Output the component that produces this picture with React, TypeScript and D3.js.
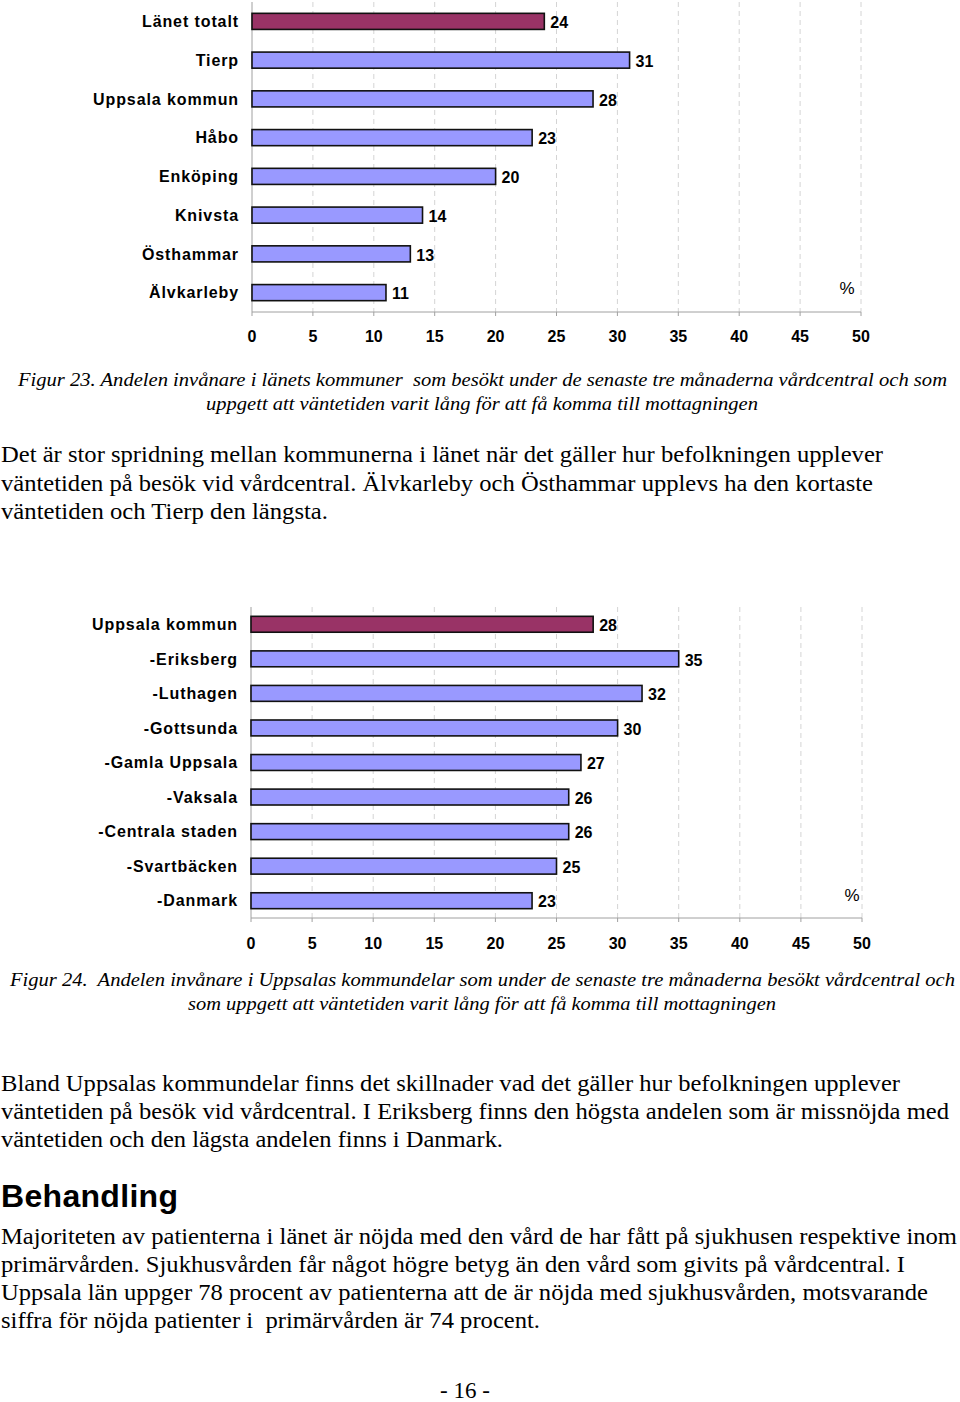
import React from "react";
import * as d3 from "d3";

const chart1Categories = ["Länet totalt", "Tierp", "Uppsala kommun", "Håbo", "Enköping", "Knivsta", "Östhammar", "Älvkarleby"];
const chart1Values = [24, 31, 28, 23, 20, 14, 13, 11];

const chart2Categories = ["Uppsala kommun", "-Eriksberg", "-Luthagen", "-Gottsunda", "-Gamla Uppsala", "-Vaksala", "-Centrala staden", "-Svartbäcken", "-Danmark"];
const chart2Values = [28, 35, 32, 30, 27, 26, 26, 25, 23];

const xTicks = [0, 5, 10, 15, 20, 25, 30, 35, 40, 45, 50];

const caption23 = [
  "Figur 23. Andelen invånare i länets kommuner  som besökt under de senaste tre månaderna vårdcentral och som",
  "uppgett att väntetiden varit lång för att få komma till mottagningen",
];
const para1 = [
  "Det är stor spridning mellan kommunerna i länet när det gäller hur befolkningen upplever",
  "väntetiden på besök vid vårdcentral. Älvkarleby och Östhammar upplevs ha den kortaste",
  "väntetiden och Tierp den längsta.",
];
const caption24 = [
  "Figur 24.  Andelen invånare i Uppsalas kommundelar som under de senaste tre månaderna besökt vårdcentral och",
  "som uppgett att väntetiden varit lång för att få komma till mottagningen",
];
const para2 = [
  "Bland Uppsalas kommundelar finns det skillnader vad det gäller hur befolkningen upplever",
  "väntetiden på besök vid vårdcentral. I Eriksberg finns den högsta andelen som är missnöjda med",
  "väntetiden och den lägsta andelen finns i Danmark.",
];
const heading = "Behandling";
const para3 = [
  "Majoriteten av patienterna i länet är nöjda med den vård de har fått på sjukhusen respektive inom",
  "primärvården. Sjukhusvården får något högre betyg än den vård som givits på vårdcentral. I",
  "Uppsala län uppger 78 procent av patienterna att de är nöjda med sjukhusvården, motsvarande",
  "siffra för nöjda patienter i  primärvården är 74 procent.",
];
const pageNumber = "- 16 -";

const SANS = "'Liberation Sans', Arial, sans-serif";
const SERIF = "'Liberation Serif', 'Times New Roman', serif";

type ChartProps = {
  categories: string[];
  values: number[];
  x0: number;
  x1: number;
  y0: number;
  y1: number;
  labelX: number;
  tickY: number;
  pct: [number, number];
  padding: number;
};

function BarChart({ categories, values, x0, x1, y0, y1, labelX, tickY, pct, padding }: ChartProps) {
  const x = d3.scaleLinear().domain([0, 50]).range([x0, x1]);
  const y = d3
    .scaleBand<string>()
    .domain(categories)
    .range([y0, y1])
    .paddingInner(padding)
    .paddingOuter(padding / 2);
  const bw = y.bandwidth();
  return (
    <g>
      {xTicks.map((t) =>
        t === 0 ? null : (
          <line key={"g" + t} x1={x(t)} x2={x(t)} y1={y0} y2={y1} stroke="#d4d4d4" strokeWidth={1} strokeDasharray="5,4" />
        )
      )}
      <line x1={x0} x2={x0} y1={y0} y2={y1} stroke="#a0a0a0" strokeWidth={1} />
      <line x1={x0} x2={x1} y1={y1} y2={y1} stroke="#a0a0a0" strokeWidth={1} />
      {xTicks.map((t) => (
        <g key={"t" + t}>
          <line x1={x(t)} x2={x(t)} y1={y1} y2={y1 + 4} stroke="#a0a0a0" strokeWidth={1} />
          <text x={x(t)} y={tickY} textAnchor="middle" fontFamily={SANS} fontWeight="bold" fontSize={16} fill="#000">
            {t}
          </text>
        </g>
      ))}
      {categories.map((c, i) => {
        const yy = y(c)!;
        return (
          <g key={c}>
            <rect
              x={x(0)}
              y={yy}
              width={x(values[i]) - x(0)}
              height={bw}
              fill={i === 0 ? "#993366" : "#9999ff"}
              stroke="#111"
              strokeWidth={1.6}
            />
            <text x={labelX} y={yy + bw / 2} dy="0.36em" textAnchor="end" fontFamily={SANS} fontWeight="bold" fontSize={16} letterSpacing={0.9} fill="#000">
              {c}
            </text>
            <text x={x(values[i]) + 6} y={yy + bw / 2} dy="0.42em" fontFamily={SANS} fontWeight="bold" fontSize={16} fill="#000">
              {values[i]}
            </text>
          </g>
        );
      })}
      <text x={pct[0]} y={pct[1]} dy="0.36em" textAnchor="middle" fontFamily={SANS} fontSize={17} fill="#000">
        %
      </text>
    </g>
  );
}

function Lines({ lines, x, y, step, widths, size, italic }: { lines: string[]; x: number[]; y: number; step: number; widths: number[]; size: number; italic?: boolean }) {
  return (
    <g>
      {lines.map((l, i) => (
        <text
          key={i}
          x={x[i]}
          y={y + i * step}
          fontFamily={SERIF}
          fontStyle={italic ? "italic" : "normal"}
          fontSize={size}
          fill="#000"
          textLength={widths[i]}
          lengthAdjust="spacingAndGlyphs"
          style={{ whiteSpace: "pre" }}
        >
          {l}
        </text>
      ))}
    </g>
  );
}

export default function App() {
  return (
    <svg width={960} height={1402} style={{ position: "absolute", left: 0, top: 0, background: "#fff" }}>
      <rect width={960} height={1402} fill="#fff" />
      <BarChart
        categories={chart1Categories}
        values={chart1Values}
        x0={252}
        x1={861}
        y0={2}
        y1={312}
        labelX={239}
        tickY={342}
        pct={[847, 288]}
        padding={0.585}
      />
      <Lines lines={caption23} x={[18, 206]} y={386} step={24} widths={[929, 552]} size={19} italic />
      <Lines lines={para1} x={[1, 1, 1]} y={462} step={28.5} widths={[882, 872, 327]} size={23} />
      <BarChart
        categories={chart2Categories}
        values={chart2Values}
        x0={251}
        x1={862}
        y0={607}
        y1={918}
        labelX={238}
        tickY={949}
        pct={[852, 895]}
        padding={0.54}
      />
      <Lines lines={caption24} x={[10, 188]} y={986} step={24} widths={[945, 588]} size={19} italic />
      <Lines lines={para2} x={[1, 1, 1]} y={1091} step={28} widths={[899, 948, 502]} size={23} />
      <text x={1} y={1207} fontFamily={SANS} fontWeight="bold" fontSize={32} fill="#000" textLength={177} lengthAdjust="spacing">
        {heading}
      </text>
      <Lines lines={para3} x={[1, 1, 1, 1]} y={1244} step={28} widths={[956, 904, 927, 539]} size={23} />
      <text x={465} y={1398} textAnchor="middle" fontFamily={SERIF} fontSize={23} fill="#000">
        {pageNumber}
      </text>
    </svg>
  );
}
